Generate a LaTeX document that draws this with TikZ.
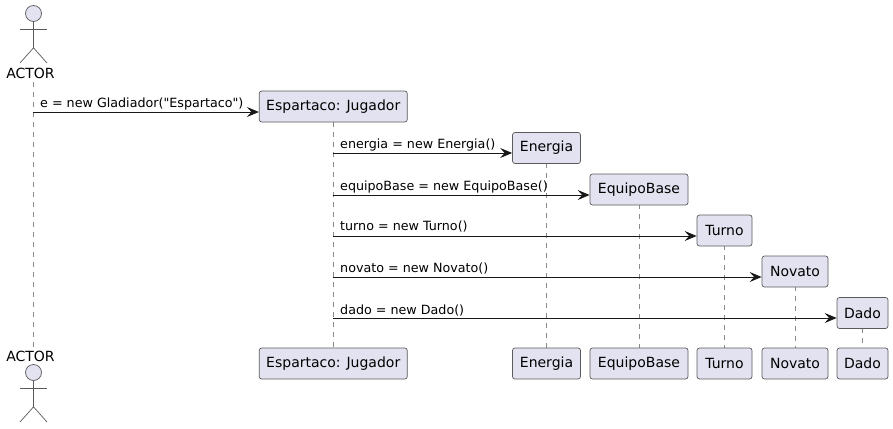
\documentclass[tikz,border=0pt]{standalone}
\usepackage{fontspec}
\setmainfont{DejaVu Sans}
\newfontfamily\msgfont{DejaVu Sans}
\usetikzlibrary{arrows.meta}
\usetikzlibrary{positioning}
\definecolor{partfill}{HTML}{E2E2F0}
\definecolor{partline}{HTML}{5A5A5A}
\definecolor{msgcolor}{HTML}{181818}
\definecolor{lifegray}{HTML}{8A8A8A}
\tikzset{
  partbox/.style={draw=partline,fill=partfill,line width=.7pt,rounded corners=2.5pt,inner sep=0pt,
    minimum height=31pt,font=\fontsize{14}{16}\selectfont,text=black},
  actorhead/.style={circle,draw=partline,fill=partfill,line width=.7pt,inner sep=0pt,minimum size=16pt},
  actorlabel/.style={inner sep=0pt,font=\fontsize{14}{16}\selectfont},
  actorline/.style={draw=partline,line width=.7pt},
  lifeline/.style={draw=lifegray,line width=.8pt,dash pattern=on 5pt off 5pt},
  msgline/.style={draw=msgcolor,line width=.9pt,-{Stealth[length=12pt,width=10pt,inset=4.5pt]}},
  msglabel/.style={inner sep=0pt,anchor=base west,font=\msgfont\fontsize{12.7}{15}\selectfont},
}
\begin{document}
\begin{tikzpicture}[x=1pt,y=-1pt]
  \useasboundingbox (0,0) rectangle (893,428);
  %actor labels
  \node[actorlabel] (actorT) at (30.5,73) {ACTOR};
  \node[actorlabel] (actorB) at (30.5,356) {ACTOR};
  %lifelines first, the boxes sit on top
  \coordinate (jugT) at (333,122);
  \coordinate (jugB) at (333,348);
  \draw[lifeline] (33,82) coordinate (lifeA) -- (33,347) coordinate (lifeAb);
  \draw[lifeline] (jugT) -- (jugB);
  \draw[lifeline] (546.5,163) coordinate (eneT) -- (546.5,348) coordinate (eneB);
  \draw[lifeline] (639,204) coordinate (equT) -- (639,348) coordinate (equB);
  \draw[lifeline] (724.5,245) coordinate (turT) -- (724.5,348) coordinate (turB);
  \draw[lifeline] (795,286) coordinate (novT) -- (795,348) coordinate (novB);
  \draw[lifeline] (862.5,328) coordinate (dadT) -- (862.5,348) coordinate (dadB);
  %top stick figure
  \node[actorhead] (headT) at (33.5,13.5) {};
  \draw[actorline] (headT.south) -- ++(0,26) coordinate (hipT);
  \draw[actorline] (20,29) -- (47,29);
  \draw[actorline] (20,63) -- (hipT) -- (47,63);
  %bottom stick figure
  \node[actorhead] (headB) at (33.5,372.5) {};
  \draw[actorline] (headB.south) -- ++(0,26) coordinate (hipB);
  \draw[actorline] (20,388) -- (47,388);
  \draw[actorline] (20,422) -- (hipB) -- (47,422);
  %participants where they get created
  \node[partbox,minimum width=148pt] (jugador) at (333.25,106.5) {Espartaco: Jugador};
  \node[partbox,minimum width=68pt] (energia) at (546.5,148) {Energia};
  \node[partbox,minimum width=98pt] (equipo) at (639,189.5) {EquipoBase};
  \node[partbox,minimum width=55pt] (turno) at (724.5,230.5) {Turno};
  \node[partbox,minimum width=66pt] (novato) at (795,271.5) {Novato};
  \node[partbox,minimum width=51pt] (dado) at (862.5,313) {Dado};
  %participants repeated at the foot
  \node[partbox,minimum width=148pt] (jugadorB) at (333.25,363.5) {Espartaco: Jugador};
  \node[partbox,minimum width=68pt] (energiaB) at (546.5,363.5) {Energia};
  \node[partbox,minimum width=98pt] (equipoB) at (639,363.5) {EquipoBase};
  \node[partbox,minimum width=55pt] (turnoB) at (724.5,363.5) {Turno};
  \node[partbox,minimum width=66pt] (novatoB) at (795,363.5) {Novato};
  \node[partbox,minimum width=51pt] (dadoB) at (862.5,363.5) {Dado};
  %messages
  \coordinate (msgA) at (33,112);
  \coordinate (msgB) at (333,153);
  \coordinate (msgC) at (333,195);
  \coordinate (msgD) at (333,236);
  \coordinate (msgE) at (333,277);
  \coordinate (msgF) at (333,318);
  \draw[msgline] (msgA) -- (msgA -| jugador.west);
  \draw[msgline] (msgB) -- (msgB -| energia.west);
  \draw[msgline] (msgC) -- (msgC -| equipo.west);
  \draw[msgline] (msgD) -- (msgD -| turno.west);
  \draw[msgline] (msgE) -- (msgE -| novato.west);
  \draw[msgline] (msgF) -- (msgF -| dado.west);
  \node[msglabel] (lblA) at (40,107) {e = new Gladiador("Espartaco")};
  \node[msglabel] (lblB) at (340,148) {energia = new Energia()};
  \node[msglabel] (lblC) at (340,190) {equipoBase = new EquipoBase()};
  \node[msglabel] (lblD) at (340,230.5) {turno = new Turno()};
  \node[msglabel] (lblE) at (340,272.5) {novato = new Novato()};
  \node[msglabel] (lblF) at (340,314) {dado = new Dado()};
\end{tikzpicture}
\end{document}
